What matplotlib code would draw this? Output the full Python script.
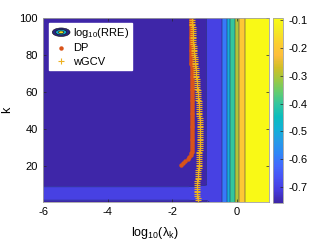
import numpy as np
import matplotlib
matplotlib.use("Agg")
import matplotlib.pyplot as plt
import matplotlib.patches as mpatches
from matplotlib.colors import LinearSegmentedColormap, Normalize
from matplotlib.cm import ScalarMappable
from matplotlib.legend_handler import HandlerBase

plt.rcParams['font.family'] = ['Liberation Sans', 'DejaVu Sans']
plt.rcParams['mathtext.fontset'] = 'custom'
plt.rcParams['mathtext.rm'] = 'Liberation Sans'
plt.rcParams['axes.unicode_minus'] = False

# log10(RRE) field: crossing positions
lam_nodes = [-6, -1.5, -0.93, -0.45, -0.30, -0.195, -0.06, 0.07, 0.25, 0.6, 1.0]
k_rows = [1, 3, 8, 10, 100]
rre_rows = [
    [-0.73, -0.73, -0.72, -0.60, -0.50, -0.40, -0.30, -0.20, -0.10, -0.095, -0.094],
    [-0.66, -0.66, -0.65, -0.60, -0.50, -0.40, -0.30, -0.20, -0.10, -0.095, -0.094],
    [-0.66, -0.66, -0.65, -0.60, -0.50, -0.40, -0.30, -0.20, -0.10, -0.095, -0.094],
    [-0.74, -0.74, -0.70, -0.60, -0.50, -0.40, -0.30, -0.20, -0.10, -0.095, -0.094],
    [-0.755, -0.74, -0.70, -0.60, -0.50, -0.40, -0.30, -0.20, -0.10, -0.095, -0.094],
]
levels = [-0.7, -0.6, -0.5, -0.4, -0.3, -0.2, -0.1]
clim = (-0.755, -0.094)

# selected log10(lambda_k) per k
dp_k = list(range(21, 101))
dp_lam = [-1.72, -1.66, -1.59, -1.52, -1.47, -1.43, -1.41, -1.40, -1.39, -1.39,
          -1.38, -1.38, -1.38, -1.38, -1.38, -1.38, -1.38, -1.38, -1.38, -1.38,
          -1.38, -1.38, -1.38, -1.38, -1.38, -1.38, -1.38, -1.38, -1.38, -1.38,
          -1.38, -1.38, -1.39, -1.39, -1.39, -1.39, -1.39, -1.39, -1.39, -1.39,
          -1.39, -1.39, -1.39, -1.39, -1.39, -1.40, -1.40, -1.40, -1.40, -1.40,
          -1.40, -1.40, -1.40, -1.40, -1.41, -1.41, -1.41, -1.41, -1.41, -1.41,
          -1.41, -1.41, -1.41, -1.41, -1.41, -1.42, -1.42, -1.42, -1.42, -1.42,
          -1.42, -1.42, -1.42, -1.42, -1.42, -1.42, -1.42, -1.42, -1.42, -1.42]
gcv_k = list(range(1, 101))
gcv_lam = [-1.19, -1.20, -1.21, -1.22, -1.23, -1.24, -1.24, -1.24, -1.23, -1.23,
           -1.22, -1.22, -1.21, -1.21, -1.20, -1.20, -1.19, -1.19, -1.18, -1.18,
           -1.18, -1.17, -1.17, -1.17, -1.16, -1.16, -1.16, -1.16, -1.15, -1.15,
           -1.15, -1.15, -1.15, -1.15, -1.15, -1.15, -1.15, -1.15, -1.15, -1.15,
           -1.15, -1.15, -1.15, -1.15, -1.15, -1.15, -1.16, -1.16, -1.16, -1.17,
           -1.17, -1.17, -1.18, -1.18, -1.18, -1.19, -1.19, -1.20, -1.20, -1.21,
           -1.21, -1.22, -1.22, -1.23, -1.23, -1.24, -1.24, -1.25, -1.25, -1.26,
           -1.26, -1.27, -1.27, -1.28, -1.28, -1.29, -1.29, -1.30, -1.30, -1.31,
           -1.31, -1.32, -1.32, -1.33, -1.33, -1.34, -1.34, -1.35, -1.35, -1.36,
           -1.36, -1.36, -1.37, -1.37, -1.37, -1.38, -1.38, -1.38, -1.39, -1.39]

# parula-like colormap
parula = LinearSegmentedColormap.from_list('parula', [
    (0.2422, 0.1504, 0.6603), (0.2751, 0.2342, 0.8710), (0.2810, 0.3228, 0.9579),
    (0.2602, 0.4123, 0.9952), (0.1786, 0.5289, 0.9682), (0.1460, 0.6091, 0.9079),
    (0.0689, 0.6948, 0.8394), (0.0433, 0.7411, 0.7394), (0.1938, 0.7758, 0.6251),
    (0.3909, 0.8029, 0.4354), (0.6174, 0.7876, 0.2612), (0.8203, 0.7498, 0.1535),
    (0.9956, 0.7434, 0.2371), (0.9892, 0.8136, 0.1885), (0.9597, 0.9135, 0.1423),
    (0.9769, 0.9839, 0.0805)])
norm = Normalize(*clim)

lam = np.linspace(-6, 1, 701)
Z = np.vstack([np.interp(lam, lam_nodes, r) for r in rre_rows])

fig = plt.figure(figsize=(3.27, 2.45), dpi=100)
ax = fig.add_axes([43.3 / 327, 1 - 201.7 / 245, 225.6 / 327, 183.7 / 245])

fill_levels = [clim[0] - 0.01] + levels + [clim[1] + 0.01]
band_colors = [parula(norm(v)) for v in [clim[0]] + levels]
ax.contourf(lam, k_rows, Z, levels=fill_levels, colors=band_colors)
ax.contour(lam, k_rows, Z, levels=levels, colors='#22224a', linewidths=0.35,
           linestyles='solid')

dp_line, = ax.plot(dp_lam, dp_k, 'o', color='#D95319', markersize=3.2, mec='none')
gcv_line, = ax.plot(gcv_lam, gcv_k, '+', color='#EDB120', markersize=5, mew=0.8)

ax.set_xlim(-6, 1)
ax.set_ylim(1, 100)
ax.set_xticks([-6, -4, -2, 0])
ax.set_yticks([20, 40, 60, 80, 100])
ax.tick_params(direction='in', length=2.5, width=0.5, top=True, right=True,
               labelsize=8, color='#262626', pad=4)
for s in ax.spines.values():
    s.set_linewidth(0.6)
    s.set_color('#a0a0a0')

ax.set_ylabel('k', fontsize=9)
ax.yaxis.set_label_coords(-0.134, 0.5)
ax.set_xlabel('log$_{10}$(λ$_{\\rm k}$)', fontsize=9)
ax.xaxis.set_label_coords(0.495, -0.125)


class ContourIcon(HandlerBase):
    def create_artists(self, legend, orig_handle, xdescent, ydescent, width,
                       height, fontsize, trans):
        cx, cy = width / 2 - xdescent, height / 2 - ydescent
        arts = []
        for s, c in zip([1.0, 0.62, 0.3], ['#2a2580', '#13a8c8', '#f5e020']):
            arts.append(mpatches.Ellipse((cx, cy), width * s, height * 1.1 * s,
                                         facecolor=c, edgecolor='#111111',
                                         lw=0.4, transform=trans))
        return arts


rre_proxy = mpatches.Patch()
leg = ax.legend([rre_proxy, dp_line, gcv_line], ['log$_{10}$(RRE)', 'DP', 'wGCV'],
                handler_map={rre_proxy: ContourIcon()}, loc='upper left',
                bbox_to_anchor=(0.025, 0.974), borderaxespad=0, fontsize=8,
                handlelength=1.6, handletextpad=0.25, labelspacing=0.3,
                borderpad=0.3, fancybox=False, framealpha=1, edgecolor='white')

cax = fig.add_axes([273.3 / 327, 1 - 202.5 / 245, 10 / 327, 184.2 / 245])
cb = fig.colorbar(ScalarMappable(norm=norm, cmap=parula), cax=cax)
cb.set_ticks(levels)
cb.ax.tick_params(direction='in', length=2, width=0.5, labelsize=8, color='#262626')
cb.outline.set_linewidth(0.6)
cb.outline.set_edgecolor('#a0a0a0')

fig.savefig('out.png', dpi=100)
